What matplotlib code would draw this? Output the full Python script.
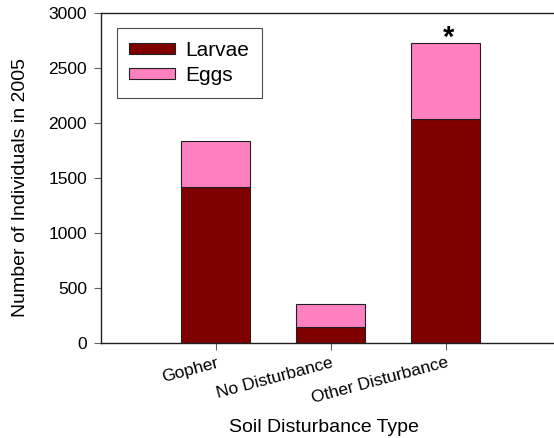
import numpy as np
import matplotlib.pyplot as plt

plt.rcParams['font.family'] = ['Liberation Sans', 'DejaVu Sans']

# Soil disturbance counts, 2005
sites = ['Gopher', 'No Disturbance', 'Other Disturbance']
larvae = [1420, 140, 2040]
eggs = [415, 215, 685]

fig = plt.figure(figsize=(5.54, 4.38), dpi=100)
ax = fig.add_axes([0.1823, 0.218, 0.8177, 0.752])

x = np.arange(1, len(sites) + 1)
w = 0.6
ax.bar(x, larvae, w, color='#800000', edgecolor='#202020', linewidth=0.8, label='Larvae')
ax.bar(x, eggs, w, bottom=larvae, color='#FF80C0', edgecolor='#202020', linewidth=0.8, label='Eggs')

# significance marker over the tallest stack
tot = np.array(larvae) + np.array(eggs)
ax.text(x[2] + 0.02, tot[2] - 25, '*', ha='center', va='baseline', fontsize=21, fontweight='bold')

ax.set_xlim(0, 3.94)
ax.set_ylim(0, 3000)
ax.set_yticks([0, 500, 1000, 1500, 2000, 2500, 3000])
ax.set_xticks(x)
ax.set_xticklabels(sites, rotation=15, ha='right', rotation_mode='anchor')
ax.tick_params(axis='both', labelsize=12.5, direction='out', length=5, width=0.8, colors='#606060', labelcolor='black')
ax.tick_params(axis='y', pad=5)
ax.tick_params(axis='x', pad=4)

ax.spines['right'].set_visible(False)
for s in ['left', 'bottom', 'top']:
    ax.spines[s].set_linewidth(1.0)
    ax.spines[s].set_color('#202020')

ax.set_xlabel('Soil Disturbance Type', fontsize=14)
ax.set_ylabel('Number of Individuals in 2005', fontsize=14)
ax.xaxis.set_label_coords(0.492, -0.231)
ax.yaxis.set_label_coords(-0.16, 0.47)

leg = ax.legend(loc='upper left', bbox_to_anchor=(0.035, 0.954), fontsize=15, frameon=True, fancybox=False,
                edgecolor='#202020', handlelength=2.2, handleheight=0.45, handletextpad=0.5,
                borderpad=0.6, labelspacing=0.3, borderaxespad=0)
leg.get_frame().set_linewidth(0.8)

fig.savefig('out.png', dpi=100)
